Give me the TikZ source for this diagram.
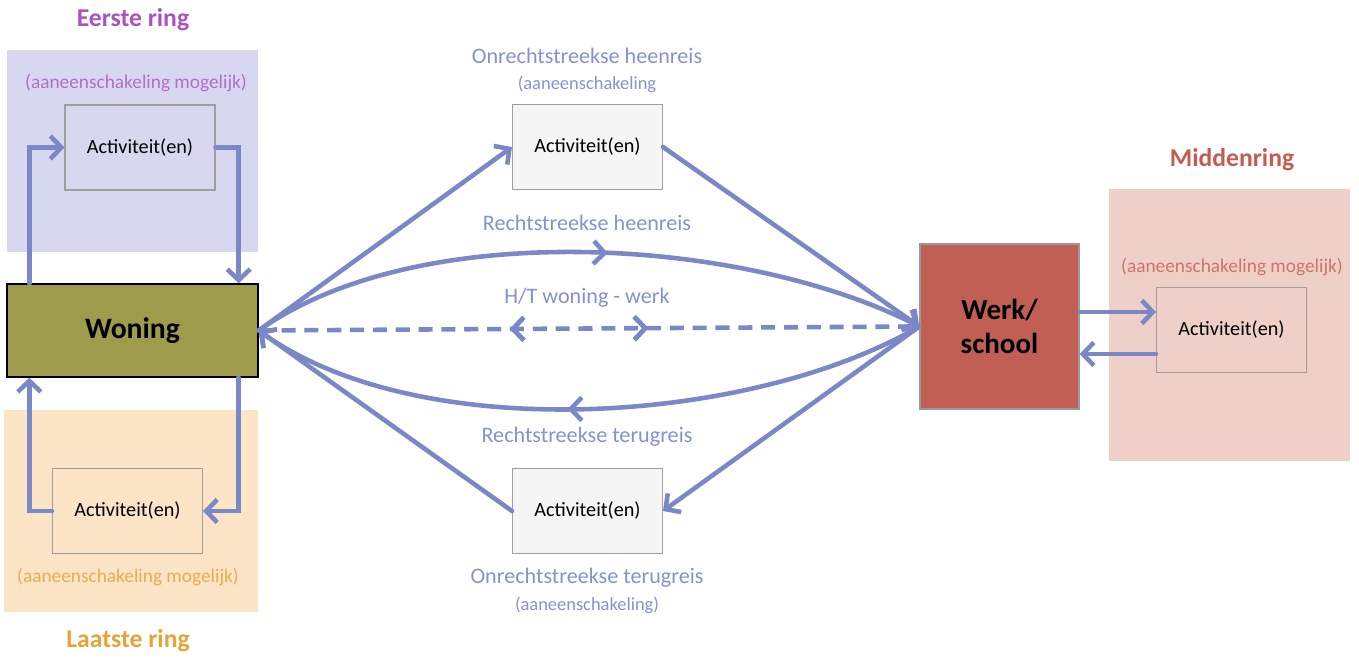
\documentclass[tikz,border=0pt]{standalone}
\usepackage{fontspec}
\setmainfont{Carlito}
\usetikzlibrary{positioning,arrows.meta,decorations.markings}

\definecolor{pijl}{HTML}{7B88C8}
\definecolor{tekstblauw}{HTML}{8592CE}
\definecolor{paarsbg}{HTML}{D7D8F0}
\definecolor{paars}{HTML}{A853C2}
\definecolor{oranjebg}{HTML}{FCE4C6}
\definecolor{oranje}{HTML}{E8A338}
\definecolor{roodbg}{HTML}{EFD0C8}
\definecolor{rood}{HTML}{C65B50}
\definecolor{olijf}{HTML}{9E9C4B}
\definecolor{werkrood}{HTML}{C25F55}

\tikzset{
	ring/.style={inner sep=0pt, anchor=north west},
	act/.style={draw=gray!75, line width=0.6pt, minimum width=3cm, minimum height=1.7cm, font=\fontsize{11.5}{13}\selectfont},
	titel/.style={font=\fontsize{14.6}{16}\selectfont\bfseries},
	sub/.style={font=\fontsize{11}{13}\selectfont},
	reis/.style={text=tekstblauw, font=\fontsize{12.6}{14}\selectfont},
	pijlen/.style={draw=pijl, line width=2.6pt, line cap=round, -{Straight Barb[length=2.2mm,width=4.6mm]}},
	midpijl/.style={postaction={decorate}, decoration={markings, mark=at position #1 with {\arrow{Straight Barb[length=2.2mm,width=4.6mm]}}}},
	midterug/.style={postaction={decorate}, decoration={markings, mark=at position #1 with {\arrowreversed{Straight Barb[length=2.2mm,width=4.6mm]}}}},
}

\begin{document}
\begin{tikzpicture}[x=0.02cm, y=-0.02cm]
	\useasboundingbox (0,0) rectangle (1359,658);

	% ringen
	\node[ring, fill=paarsbg, minimum width=5.02cm, minimum height=4.04cm] (ring1) at (7,50) {};
	\node[ring, fill=oranjebg, minimum width=5.08cm, minimum height=4.04cm] (ring3) at (4,410) {};
	\node[ring, fill=roodbg, minimum width=4.82cm, minimum height=5.44cm] (ring2) at (1109,189) {};

	\node[titel, text=paars] (t1) at (133,20) {Eerste ring};
	\node[titel, text=oranje] (t3) at (128,641) {Laatste ring};
	\node[titel, text=rood] (t2) at (1232,160) {Middenring};

	\node[sub, text=paars!85] (s1) at (136,83) {(aaneenschakeling mogelijk)};
	\node[sub, text=oranje!90] (s3) at (128,577) {(aaneenschakeling mogelijk)};
	\node[sub, text=rood!85] (s2) at (1232,267) {(aaneenschakeling mogelijk)};

	% hoofdknopen
	\node[draw=black, line width=0.8pt, fill=olijf, minimum width=5.02cm, minimum height=1.86cm, font=\fontsize{16.9}{18}\selectfont\bfseries] (woning) at (132.5,330.5) {Woning};
	\node[draw=gray!80, line width=0.8pt, fill=werkrood, minimum width=3.18cm, minimum height=3.3cm, align=center, font=\fontsize{16.5}{19}\selectfont\bfseries] (werk) at (999.5,326.5) {Werk/\\school};

	% activiteiten
	\node[act, fill=paarsbg] (act1) at (140,147.5) {Activiteit(en)};
	\node[act, fill=oranjebg] (act3) at (127.5,511) {Activiteit(en)};
	\node[act, fill=roodbg] (actm) at (1231.5,330) {Activiteit(en)};
	\node[act, fill=black!4] (heen) at (587.5,147) {Activiteit(en)};
	\node[act, fill=black!4] (terug) at (587.5,511) {Activiteit(en)};

	\node[reis] (l1) at (587,56) {Onrechtstreekse heenreis};
	\node[reis, font=\fontsize{10.5}{12}\selectfont] (l2) at (587,84) {(aaneenschakeling};
	\node[reis] (l3) at (587,223) {Rechtstreekse heenreis};
	\node[reis] (l4) at (587,298) {H/T woning - werk};
	\node[reis] (l5) at (587,437) {Rechtstreekse terugreis};
	\node[reis] (l6) at (587,578) {Onrechtstreekse terugreis};
	\node[reis, font=\fontsize{10.5}{12}\selectfont] (l7) at (587,605) {(aaneenschakeling)};

	% lussen links
	\draw[pijlen] ([xshift=0.46cm]woning.north west) |- (act1.west);
	\draw[pijlen] (act1.east) -| ([xshift=-0.4cm]woning.north east);
	\draw[pijlen] ([xshift=-0.4cm]woning.south east) |- (act3.east);
	\draw[pijlen] (act3.west) -| ([xshift=0.46cm]woning.south west);

	% reizen
	\draw[pijlen] (woning.east) -- (heen.west);
	\draw[pijlen] (heen.east) -- (werk.west);
	\draw[pijlen, midpijl=0.53] (woning.east) .. controls (420,216) and (745,238) .. (werk.west);
	\draw[pijlen, midpijl=0.53] (werk.west) .. controls (750,425) and (420,446) .. (woning.east);
	\draw[pijlen] (werk.west) -- (terug.east);
	\draw[pijlen] (terug.west) -- (woning.east);
	\draw[draw=pijl, line width=2.6pt, dash pattern=on 8pt off 5pt, midterug=0.38, midpijl=0.59] (woning.east) -- (werk.west);

	% middenring
	\coordinate (m1) at ([yshift=0.36cm]actm.west);
	\coordinate (m2) at ([yshift=-0.48cm]actm.west);
	\draw[pijlen] (m1 -| werk.east) -- (m1);
	\draw[pijlen] (m2) -- (m2 -| werk.east);
\end{tikzpicture}
\end{document}
